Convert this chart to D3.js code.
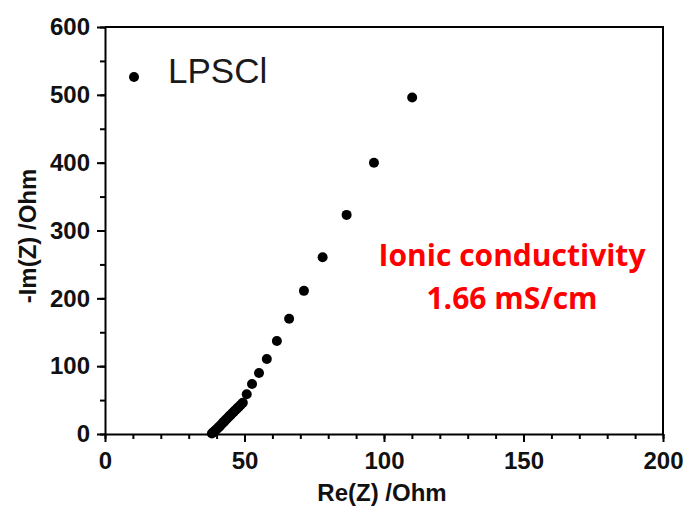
<!DOCTYPE html>
<html>
<head>
<meta charset="utf-8">
<script src="https://cdn.jsdelivr.net/npm/d3@7"></script>
<style>
  body { margin: 0; background: #fff; }
  svg { display: block; }
  .axis text { font-family: "Liberation Sans", Arial, sans-serif; font-weight: bold; font-size: 24px; fill: #111; }
  .axis path, .axis line { stroke: #000; stroke-width: 2; }
</style>
</head>
<body>
<div id="chart"></div>
<script>
var w = 683;
var h = 506;

// Nyquist data, LPSCl (Re(Z), -Im(Z)) in Ohm
var reZ = [38.3, 38.7, 39.1, 39.5, 39.9, 40.3, 40.8, 41.2, 41.7, 42.1, 42.6, 43.1,
           43.6, 44.1, 44.6, 45.1, 45.7, 46.2, 46.8, 47.4, 48.0, 48.7, 49.4,
           50.8, 52.7, 55.2, 58.0, 61.6, 66.0, 71.3, 78.0, 86.6, 96.4, 110.1];
var imZ = [0.8, 2.2, 3.5, 5.0, 6.6, 8.2, 10.1, 11.9, 13.9, 15.8, 17.9, 20.1,
           22.2, 24.3, 26.4, 28.5, 30.9, 33.0, 35.4, 37.8, 40.3, 43.1, 46.0,
           58.6, 73.7, 90.0, 110.6, 137.0, 170.0, 211.0, 260.6, 323.0, 400.0, 496.0];

var xTicks = [0, 50, 100, 150, 200];
var yTicks = [0, 100, 200, 300, 400, 500, 600];
var seriesName = "LPSCl";
var noteLines = ["Ionic conductivity", "1.66 mS/cm"];

var points = reZ.map(function(d, i) { return { x: d, y: imZ[i] }; });

var svg = d3.select("#chart")
            .append("svg")
            .attr("width", w)
            .attr("height", h);

// plot box (window.top is reserved, so use other names)
var pLeft = 105, pRight = 663, pTop = 27, pBottom = 434;

var xScale = d3.scaleLinear()
               .domain([0, 200])
               .range([pLeft, pRight]);

var yScale = d3.scaleLinear()
               .domain([0, 600])
               .range([pBottom, pTop]);

// minor ticks first, so majors sit on top
svg.append("g")
   .attr("class", "axis")
   .attr("transform", "translate(0," + pBottom + ")")
   .call(d3.axisBottom(xScale).tickValues(d3.range(0, 201, 10)).tickSize(5).tickFormat(""))
   .select(".domain").remove();

svg.append("g")
   .attr("class", "axis")
   .attr("transform", "translate(" + pLeft + ",0)")
   .call(d3.axisLeft(yScale).tickValues(d3.range(0, 601, 50)).tickSize(5).tickFormat(""))
   .select(".domain").remove();

// major ticks + labels
svg.append("g")
   .attr("class", "axis")
   .attr("transform", "translate(0," + pBottom + ")")
   .call(d3.axisBottom(xScale).tickValues(xTicks).tickSize(8).tickSizeOuter(0).tickPadding(10));

svg.append("g")
   .attr("class", "axis")
   .attr("transform", "translate(" + pLeft + ",0)")
   .call(d3.axisLeft(yScale).tickValues(yTicks).tickSize(8).tickSizeOuter(0).tickPadding(7));

// frame top and right
svg.append("path")
   .attr("d", "M" + pLeft + "," + pTop + "H" + pRight + "V" + pBottom)
   .attr("fill", "none")
   .attr("stroke", "#000")
   .attr("stroke-width", 2);

// data points
svg.append("g")
   .selectAll("circle")
   .data(points)
   .enter()
   .append("circle")
   .attr("cx", function(d) { return xScale(d.x); })
   .attr("cy", function(d) { return yScale(d.y); })
   .attr("r", 5)
   .attr("fill", "#000");

// legend
svg.append("circle")
   .attr("cx", 134)
   .attr("cy", 77)
   .attr("r", 5)
   .attr("fill", "#000");

svg.append("text")
   .attr("x", 168)
   .attr("y", 83)
   .style("font-family", "Liberation Sans, Arial, sans-serif")
   .style("font-size", "35px")
   .style("fill", "#1a1a1a")
   .text(seriesName);

// axis titles
svg.append("text")
   .attr("x", 382)
   .attr("y", 501)
   .attr("text-anchor", "middle")
   .style("font-family", "Liberation Sans, Arial, sans-serif")
   .style("font-weight", "bold")
   .style("font-size", "24px")
   .style("fill", "#111")
   .text("Re(Z) /Ohm");

svg.append("text")
   .attr("transform", "translate(36,236) rotate(-90)")
   .attr("text-anchor", "middle")
   .style("font-family", "Liberation Sans, Arial, sans-serif")
   .style("font-weight", "bold")
   .style("font-size", "24px")
   .style("fill", "#111")
   .text("-Im(Z) /Ohm");

// annotation
svg.selectAll(".note")
   .data(noteLines)
   .enter()
   .append("text")
   .attr("class", "note")
   .attr("x", 512)
   .attr("y", function(d, i) { return 266 + i * 43; })
   .attr("text-anchor", "middle")
   .style("font-family", "Open Sans, sans-serif")
   .style("font-weight", "bold")
   .style("font-size", "30px")
   .style("fill", "#ff0000")
   .text(function(d) { return d; });
</script>
</body>
</html>
